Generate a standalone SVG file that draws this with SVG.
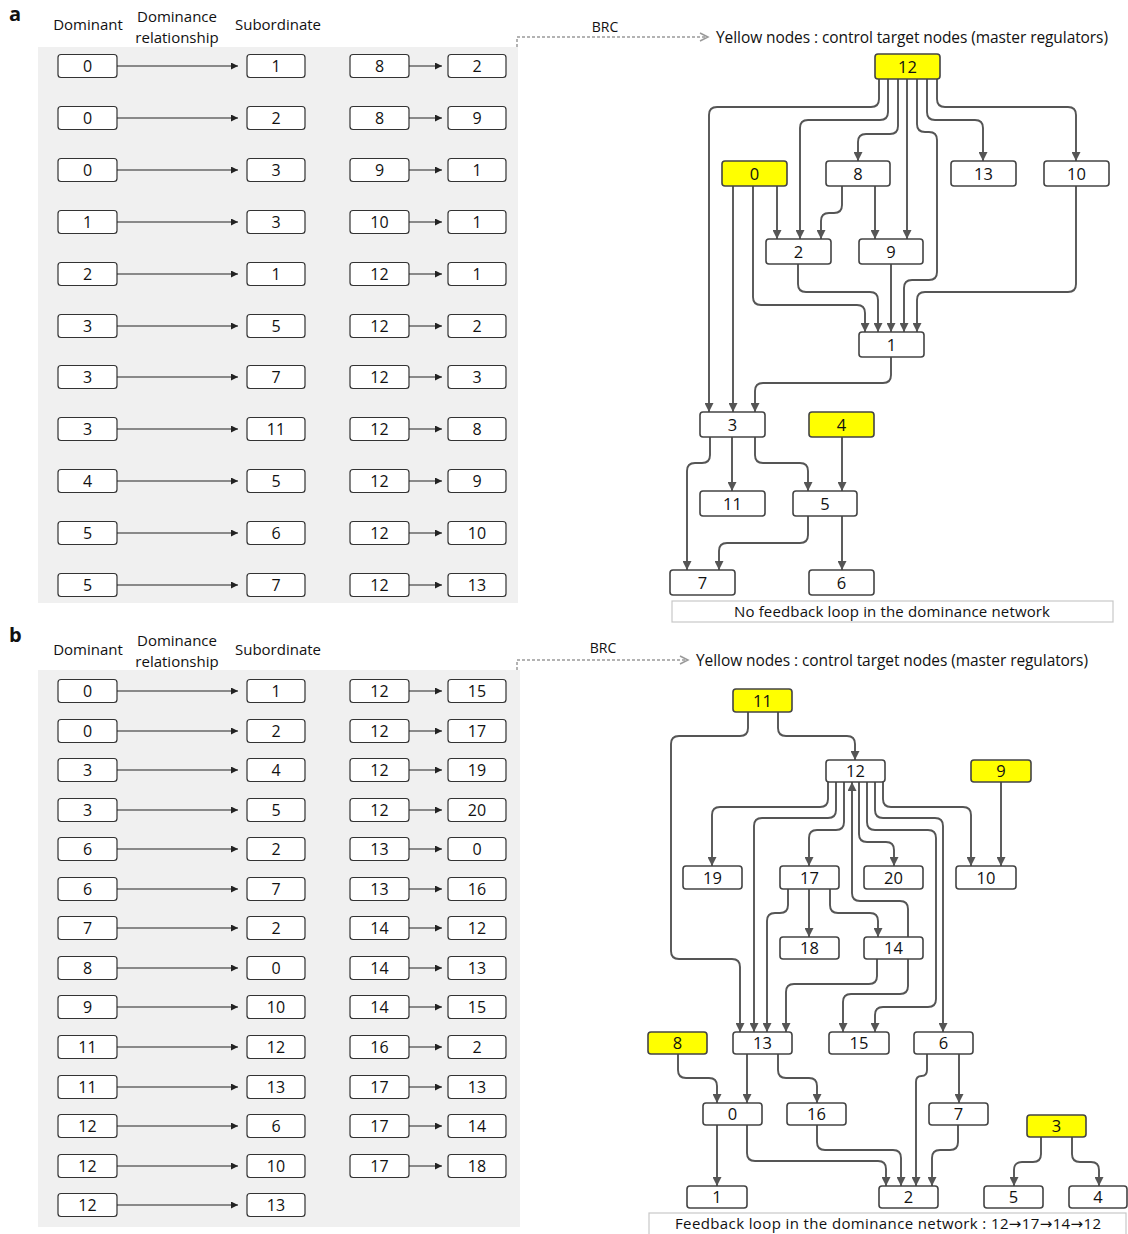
<svg xmlns="http://www.w3.org/2000/svg" width="1128" height="1234" viewBox="0 0 1128 1234">
<style>
text{font-family:"Open Sans","Liberation Sans",sans-serif;fill:#111;}
.hd{font-size:15px;text-anchor:middle;}
.pl{font-size:20px;font-weight:bold;}
.tb{fill:#fff;stroke:#333;stroke-width:1.2;}
.tt{font-size:16px;text-anchor:middle;}
.ta{stroke:#222;stroke-width:1;marker-end:url(#ta);}
.gn{fill:#fff;stroke:#444;stroke-width:1.6;}
.y{fill:#ffff00;}
.gt{font-size:16.5px;text-anchor:middle;}
.e{fill:none;stroke:#555;stroke-width:1.9;marker-end:url(#ah);}
.brc{fill:none;stroke:#9a9a9a;stroke-width:1.5;stroke-dasharray:3 2;}
.brh{fill:none;stroke:#9a9a9a;stroke-width:1.5;}
.cap{fill:#fff;stroke:#c8c8c8;stroke-width:1.2;}
.bg{fill:#f0f0f0;}
.arr{font-family:"DejaVu Sans",sans-serif;}
</style>
<defs>
<marker id="ah" viewBox="0 0 10 10" refX="10" refY="5" markerWidth="10" markerHeight="9" markerUnits="userSpaceOnUse" orient="auto"><path d="M0,0 L10,5 L0,10 z" fill="#555"/></marker>
<marker id="ta" viewBox="0 0 10 10" refX="10" refY="5" markerWidth="8" markerHeight="7" markerUnits="userSpaceOnUse" orient="auto"><path d="M0,0 L10,5 L0,10 z" fill="#222"/></marker>
</defs>
<rect width="1128" height="1234" fill="#fff"/>

<!-- ============ PANEL A ============ -->
<text class="pl" x="9" y="21">a</text>
<text class="hd" x="88" y="30">Dominant</text>
<text class="hd" x="177" y="22">Dominance</text>
<text class="hd" x="177" y="43">relationship</text>
<text class="hd" x="278" y="30">Subordinate</text>
<rect class="bg" x="38" y="47" width="480" height="556"/>

<g id="a-table">
<g id="a-row1"><rect class="tb" x="58" y="54.5" width="59" height="23" rx="3"/><text class="tt" x="87.5" y="71.8">0</text><line class="ta" x1="117" y1="66" x2="238" y2="66"/><rect class="tb" x="247" y="54.5" width="58" height="23" rx="3"/><text class="tt" x="276" y="71.8">1</text><rect class="tb" x="350" y="54.5" width="59" height="23" rx="3"/><text class="tt" x="379.5" y="71.8">8</text><line class="ta" x1="409" y1="66" x2="442" y2="66"/><rect class="tb" x="448" y="54.5" width="58" height="23" rx="3"/><text class="tt" x="477" y="71.8">2</text></g>
<g id="a-row2"><rect class="tb" x="58" y="106.5" width="59" height="23" rx="3"/><text class="tt" x="87.5" y="123.8">0</text><line class="ta" x1="117" y1="118" x2="238" y2="118"/><rect class="tb" x="247" y="106.5" width="58" height="23" rx="3"/><text class="tt" x="276" y="123.8">2</text><rect class="tb" x="350" y="106.5" width="59" height="23" rx="3"/><text class="tt" x="379.5" y="123.8">8</text><line class="ta" x1="409" y1="118" x2="442" y2="118"/><rect class="tb" x="448" y="106.5" width="58" height="23" rx="3"/><text class="tt" x="477" y="123.8">9</text></g>
<g id="a-row3"><rect class="tb" x="58" y="158.5" width="59" height="23" rx="3"/><text class="tt" x="87.5" y="175.8">0</text><line class="ta" x1="117" y1="170" x2="238" y2="170"/><rect class="tb" x="247" y="158.5" width="58" height="23" rx="3"/><text class="tt" x="276" y="175.8">3</text><rect class="tb" x="350" y="158.5" width="59" height="23" rx="3"/><text class="tt" x="379.5" y="175.8">9</text><line class="ta" x1="409" y1="170" x2="442" y2="170"/><rect class="tb" x="448" y="158.5" width="58" height="23" rx="3"/><text class="tt" x="477" y="175.8">1</text></g>
<g id="a-row4"><rect class="tb" x="58" y="210.5" width="59" height="23" rx="3"/><text class="tt" x="87.5" y="227.8">1</text><line class="ta" x1="117" y1="222" x2="238" y2="222"/><rect class="tb" x="247" y="210.5" width="58" height="23" rx="3"/><text class="tt" x="276" y="227.8">3</text><rect class="tb" x="350" y="210.5" width="59" height="23" rx="3"/><text class="tt" x="379.5" y="227.8">10</text><line class="ta" x1="409" y1="222" x2="442" y2="222"/><rect class="tb" x="448" y="210.5" width="58" height="23" rx="3"/><text class="tt" x="477" y="227.8">1</text></g>
<g id="a-row5"><rect class="tb" x="58" y="262.5" width="59" height="23" rx="3"/><text class="tt" x="87.5" y="279.8">2</text><line class="ta" x1="117" y1="274" x2="238" y2="274"/><rect class="tb" x="247" y="262.5" width="58" height="23" rx="3"/><text class="tt" x="276" y="279.8">1</text><rect class="tb" x="350" y="262.5" width="59" height="23" rx="3"/><text class="tt" x="379.5" y="279.8">12</text><line class="ta" x1="409" y1="274" x2="442" y2="274"/><rect class="tb" x="448" y="262.5" width="58" height="23" rx="3"/><text class="tt" x="477" y="279.8">1</text></g>
<g id="a-row6"><rect class="tb" x="58" y="314.5" width="59" height="23" rx="3"/><text class="tt" x="87.5" y="331.8">3</text><line class="ta" x1="117" y1="326" x2="238" y2="326"/><rect class="tb" x="247" y="314.5" width="58" height="23" rx="3"/><text class="tt" x="276" y="331.8">5</text><rect class="tb" x="350" y="314.5" width="59" height="23" rx="3"/><text class="tt" x="379.5" y="331.8">12</text><line class="ta" x1="409" y1="326" x2="442" y2="326"/><rect class="tb" x="448" y="314.5" width="58" height="23" rx="3"/><text class="tt" x="477" y="331.8">2</text></g>
<g id="a-row7"><rect class="tb" x="58" y="365.5" width="59" height="23" rx="3"/><text class="tt" x="87.5" y="382.8">3</text><line class="ta" x1="117" y1="377" x2="238" y2="377"/><rect class="tb" x="247" y="365.5" width="58" height="23" rx="3"/><text class="tt" x="276" y="382.8">7</text><rect class="tb" x="350" y="365.5" width="59" height="23" rx="3"/><text class="tt" x="379.5" y="382.8">12</text><line class="ta" x1="409" y1="377" x2="442" y2="377"/><rect class="tb" x="448" y="365.5" width="58" height="23" rx="3"/><text class="tt" x="477" y="382.8">3</text></g>
<g id="a-row8"><rect class="tb" x="58" y="417.5" width="59" height="23" rx="3"/><text class="tt" x="87.5" y="434.8">3</text><line class="ta" x1="117" y1="429" x2="238" y2="429"/><rect class="tb" x="247" y="417.5" width="58" height="23" rx="3"/><text class="tt" x="276" y="434.8">11</text><rect class="tb" x="350" y="417.5" width="59" height="23" rx="3"/><text class="tt" x="379.5" y="434.8">12</text><line class="ta" x1="409" y1="429" x2="442" y2="429"/><rect class="tb" x="448" y="417.5" width="58" height="23" rx="3"/><text class="tt" x="477" y="434.8">8</text></g>
<g id="a-row9"><rect class="tb" x="58" y="469.5" width="59" height="23" rx="3"/><text class="tt" x="87.5" y="486.8">4</text><line class="ta" x1="117" y1="481" x2="238" y2="481"/><rect class="tb" x="247" y="469.5" width="58" height="23" rx="3"/><text class="tt" x="276" y="486.8">5</text><rect class="tb" x="350" y="469.5" width="59" height="23" rx="3"/><text class="tt" x="379.5" y="486.8">12</text><line class="ta" x1="409" y1="481" x2="442" y2="481"/><rect class="tb" x="448" y="469.5" width="58" height="23" rx="3"/><text class="tt" x="477" y="486.8">9</text></g>
<g id="a-row10"><rect class="tb" x="58" y="521.5" width="59" height="23" rx="3"/><text class="tt" x="87.5" y="538.8">5</text><line class="ta" x1="117" y1="533" x2="238" y2="533"/><rect class="tb" x="247" y="521.5" width="58" height="23" rx="3"/><text class="tt" x="276" y="538.8">6</text><rect class="tb" x="350" y="521.5" width="59" height="23" rx="3"/><text class="tt" x="379.5" y="538.8">12</text><line class="ta" x1="409" y1="533" x2="442" y2="533"/><rect class="tb" x="448" y="521.5" width="58" height="23" rx="3"/><text class="tt" x="477" y="538.8">10</text></g>
<g id="a-row11"><rect class="tb" x="58" y="573.5" width="59" height="23" rx="3"/><text class="tt" x="87.5" y="590.8">5</text><line class="ta" x1="117" y1="585" x2="238" y2="585"/><rect class="tb" x="247" y="573.5" width="58" height="23" rx="3"/><text class="tt" x="276" y="590.8">7</text><rect class="tb" x="350" y="573.5" width="59" height="23" rx="3"/><text class="tt" x="379.5" y="590.8">12</text><line class="ta" x1="409" y1="585" x2="442" y2="585"/><rect class="tb" x="448" y="573.5" width="58" height="23" rx="3"/><text class="tt" x="477" y="590.8">13</text></g>
</g>

<g id="a-brc">
<path class="brc" d="M517,47 V37 H707"/>
<path class="brh" d="M700,33 L708,37 L700,41"/>
<text x="605" y="32" style="font-size:14px;text-anchor:middle">BRC</text>
<text x="716" y="43" style="font-size:15.5px" textLength="392">Yellow nodes : control target nodes (master regulators)</text>
</g>

<g id="a-connectors">
<path class="e" d="M879,79 V99 Q879,107 871,107 H717 Q709,107 709,115 V412"/>
<path class="e" d="M888,79 V112 Q888,120 880,120 H808 Q800,120 800,128 V239"/>
<path class="e" d="M898,79 V126 Q898,134 890,134 H866 Q858,134 858,142 V161"/>
<path class="e" d="M907,79 V239"/>
<path class="e" d="M917,79 V124 Q917,132 925,132 H929 Q937,132 937,140 V272 Q937,280 929,280 H912 Q904,280 904,288 V332"/>
<path class="e" d="M927,79 V112 Q927,120 935,120 H975 Q983,120 983,128 V161"/>
<path class="e" d="M937,79 V99 Q937,107 945,107 H1068 Q1076,107 1076,115 V161"/>
<path class="e" d="M842,186 V205 Q842,213 834,213 H829 Q821,213 821,221 V239"/>
<path class="e" d="M875,186 V239"/>
<path class="e" d="M733,186 V412"/>
<path class="e" d="M753,186 V297 Q753,305 761,305 H857 Q865,305 865,313 V332"/>
<path class="e" d="M777,186 V239"/>
<path class="e" d="M798,264 V284 Q798,292 806,292 H870 Q878,292 878,300 V332"/>
<path class="e" d="M891,264 V332"/>
<path class="e" d="M1076,186 V284 Q1076,292 1068,292 H925 Q917,292 917,300 V332"/>
<path class="e" d="M891,357 V375 Q891,383 883,383 H763 Q755,383 755,391 V412"/>
<path class="e" d="M710,437 V455 Q710,463 702,463 H695 Q687,463 687,471 V570"/>
<path class="e" d="M732,437 V491"/>
<path class="e" d="M755,437 V455 Q755,463 763,463 H800 Q808,463 808,471 V491"/>
<path class="e" d="M842,437 V491"/>
<path class="e" d="M808,516 V535 Q808,543 800,543 H727 Q719,543 719,551 V570"/>
<path class="e" d="M842,516 V570"/>
</g>

<g id="a-n12"><rect class="gn y" x="875" y="54" width="65" height="25" rx="3"/><text class="gt" x="907.5" y="72.5">12</text></g>
<g id="a-n0"><rect class="gn y" x="722" y="161" width="65" height="25" rx="3"/><text class="gt" x="754.5" y="179.5">0</text></g>
<g id="a-n8"><rect class="gn" x="826" y="161" width="64" height="25" rx="3"/><text class="gt" x="858" y="179.5">8</text></g>
<g id="a-n13"><rect class="gn" x="951" y="161" width="65" height="25" rx="3"/><text class="gt" x="983.5" y="179.5">13</text></g>
<g id="a-n10"><rect class="gn" x="1044" y="161" width="65" height="25" rx="3"/><text class="gt" x="1076.5" y="179.5">10</text></g>
<g id="a-n2"><rect class="gn" x="766" y="239" width="65" height="25" rx="3"/><text class="gt" x="798.5" y="257.5">2</text></g>
<g id="a-n9"><rect class="gn" x="859" y="239" width="64" height="25" rx="3"/><text class="gt" x="891" y="257.5">9</text></g>
<g id="a-n1"><rect class="gn" x="859" y="332" width="65" height="25" rx="3"/><text class="gt" x="891.5" y="350.5">1</text></g>
<g id="a-n3"><rect class="gn" x="700" y="412" width="65" height="25" rx="3"/><text class="gt" x="732.5" y="430.5">3</text></g>
<g id="a-n4"><rect class="gn y" x="809" y="412" width="65" height="25" rx="3"/><text class="gt" x="841.5" y="430.5">4</text></g>
<g id="a-n11"><rect class="gn" x="700" y="491" width="65" height="25" rx="3"/><text class="gt" x="732.5" y="509.5">11</text></g>
<g id="a-n5"><rect class="gn" x="793" y="491" width="64" height="25" rx="3"/><text class="gt" x="825" y="509.5">5</text></g>
<g id="a-n7"><rect class="gn" x="670" y="570" width="65" height="25" rx="3"/><text class="gt" x="702.5" y="588.5">7</text></g>
<g id="a-n6"><rect class="gn" x="809" y="570" width="65" height="25" rx="3"/><text class="gt" x="841.5" y="588.5">6</text></g>

<g id="a-caption"><rect class="cap" x="672" y="601" width="441" height="21"/><text x="892" y="616.5" style="font-size:15px;text-anchor:middle" textLength="316">No feedback loop in the dominance network</text></g>

<!-- ============ PANEL B ============ -->
<text class="pl" x="9" y="642">b</text>
<text class="hd" x="88" y="655">Dominant</text>
<text class="hd" x="177" y="646">Dominance</text>
<text class="hd" x="177" y="667">relationship</text>
<text class="hd" x="278" y="655">Subordinate</text>
<rect class="bg" x="38" y="670" width="482" height="557"/>

<g id="b-table">
<g id="b-row1"><rect class="tb" x="58" y="679.5" width="59" height="23" rx="3"/><text class="tt" x="87.5" y="696.8">0</text><line class="ta" x1="117" y1="691" x2="238" y2="691"/><rect class="tb" x="247" y="679.5" width="58" height="23" rx="3"/><text class="tt" x="276" y="696.8">1</text><rect class="tb" x="350" y="679.5" width="59" height="23" rx="3"/><text class="tt" x="379.5" y="696.8">12</text><line class="ta" x1="409" y1="691" x2="442" y2="691"/><rect class="tb" x="448" y="679.5" width="58" height="23" rx="3"/><text class="tt" x="477" y="696.8">15</text></g>
<g id="b-row2"><rect class="tb" x="58" y="719.5" width="59" height="23" rx="3"/><text class="tt" x="87.5" y="736.8">0</text><line class="ta" x1="117" y1="731" x2="238" y2="731"/><rect class="tb" x="247" y="719.5" width="58" height="23" rx="3"/><text class="tt" x="276" y="736.8">2</text><rect class="tb" x="350" y="719.5" width="59" height="23" rx="3"/><text class="tt" x="379.5" y="736.8">12</text><line class="ta" x1="409" y1="731" x2="442" y2="731"/><rect class="tb" x="448" y="719.5" width="58" height="23" rx="3"/><text class="tt" x="477" y="736.8">17</text></g>
<g id="b-row3"><rect class="tb" x="58" y="758.5" width="59" height="23" rx="3"/><text class="tt" x="87.5" y="775.8">3</text><line class="ta" x1="117" y1="770" x2="238" y2="770"/><rect class="tb" x="247" y="758.5" width="58" height="23" rx="3"/><text class="tt" x="276" y="775.8">4</text><rect class="tb" x="350" y="758.5" width="59" height="23" rx="3"/><text class="tt" x="379.5" y="775.8">12</text><line class="ta" x1="409" y1="770" x2="442" y2="770"/><rect class="tb" x="448" y="758.5" width="58" height="23" rx="3"/><text class="tt" x="477" y="775.8">19</text></g>
<g id="b-row4"><rect class="tb" x="58" y="798.5" width="59" height="23" rx="3"/><text class="tt" x="87.5" y="815.8">3</text><line class="ta" x1="117" y1="810" x2="238" y2="810"/><rect class="tb" x="247" y="798.5" width="58" height="23" rx="3"/><text class="tt" x="276" y="815.8">5</text><rect class="tb" x="350" y="798.5" width="59" height="23" rx="3"/><text class="tt" x="379.5" y="815.8">12</text><line class="ta" x1="409" y1="810" x2="442" y2="810"/><rect class="tb" x="448" y="798.5" width="58" height="23" rx="3"/><text class="tt" x="477" y="815.8">20</text></g>
<g id="b-row5"><rect class="tb" x="58" y="837.5" width="59" height="23" rx="3"/><text class="tt" x="87.5" y="854.8">6</text><line class="ta" x1="117" y1="849" x2="238" y2="849"/><rect class="tb" x="247" y="837.5" width="58" height="23" rx="3"/><text class="tt" x="276" y="854.8">2</text><rect class="tb" x="350" y="837.5" width="59" height="23" rx="3"/><text class="tt" x="379.5" y="854.8">13</text><line class="ta" x1="409" y1="849" x2="442" y2="849"/><rect class="tb" x="448" y="837.5" width="58" height="23" rx="3"/><text class="tt" x="477" y="854.8">0</text></g>
<g id="b-row6"><rect class="tb" x="58" y="877.5" width="59" height="23" rx="3"/><text class="tt" x="87.5" y="894.8">6</text><line class="ta" x1="117" y1="889" x2="238" y2="889"/><rect class="tb" x="247" y="877.5" width="58" height="23" rx="3"/><text class="tt" x="276" y="894.8">7</text><rect class="tb" x="350" y="877.5" width="59" height="23" rx="3"/><text class="tt" x="379.5" y="894.8">13</text><line class="ta" x1="409" y1="889" x2="442" y2="889"/><rect class="tb" x="448" y="877.5" width="58" height="23" rx="3"/><text class="tt" x="477" y="894.8">16</text></g>
<g id="b-row7"><rect class="tb" x="58" y="916.5" width="59" height="23" rx="3"/><text class="tt" x="87.5" y="933.8">7</text><line class="ta" x1="117" y1="928" x2="238" y2="928"/><rect class="tb" x="247" y="916.5" width="58" height="23" rx="3"/><text class="tt" x="276" y="933.8">2</text><rect class="tb" x="350" y="916.5" width="59" height="23" rx="3"/><text class="tt" x="379.5" y="933.8">14</text><line class="ta" x1="409" y1="928" x2="442" y2="928"/><rect class="tb" x="448" y="916.5" width="58" height="23" rx="3"/><text class="tt" x="477" y="933.8">12</text></g>
<g id="b-row8"><rect class="tb" x="58" y="956.5" width="59" height="23" rx="3"/><text class="tt" x="87.5" y="973.8">8</text><line class="ta" x1="117" y1="968" x2="238" y2="968"/><rect class="tb" x="247" y="956.5" width="58" height="23" rx="3"/><text class="tt" x="276" y="973.8">0</text><rect class="tb" x="350" y="956.5" width="59" height="23" rx="3"/><text class="tt" x="379.5" y="973.8">14</text><line class="ta" x1="409" y1="968" x2="442" y2="968"/><rect class="tb" x="448" y="956.5" width="58" height="23" rx="3"/><text class="tt" x="477" y="973.8">13</text></g>
<g id="b-row9"><rect class="tb" x="58" y="995.5" width="59" height="23" rx="3"/><text class="tt" x="87.5" y="1012.8">9</text><line class="ta" x1="117" y1="1007" x2="238" y2="1007"/><rect class="tb" x="247" y="995.5" width="58" height="23" rx="3"/><text class="tt" x="276" y="1012.8">10</text><rect class="tb" x="350" y="995.5" width="59" height="23" rx="3"/><text class="tt" x="379.5" y="1012.8">14</text><line class="ta" x1="409" y1="1007" x2="442" y2="1007"/><rect class="tb" x="448" y="995.5" width="58" height="23" rx="3"/><text class="tt" x="477" y="1012.8">15</text></g>
<g id="b-row10"><rect class="tb" x="58" y="1035.5" width="59" height="23" rx="3"/><text class="tt" x="87.5" y="1052.8">11</text><line class="ta" x1="117" y1="1047" x2="238" y2="1047"/><rect class="tb" x="247" y="1035.5" width="58" height="23" rx="3"/><text class="tt" x="276" y="1052.8">12</text><rect class="tb" x="350" y="1035.5" width="59" height="23" rx="3"/><text class="tt" x="379.5" y="1052.8">16</text><line class="ta" x1="409" y1="1047" x2="442" y2="1047"/><rect class="tb" x="448" y="1035.5" width="58" height="23" rx="3"/><text class="tt" x="477" y="1052.8">2</text></g>
<g id="b-row11"><rect class="tb" x="58" y="1075.5" width="59" height="23" rx="3"/><text class="tt" x="87.5" y="1092.8">11</text><line class="ta" x1="117" y1="1087" x2="238" y2="1087"/><rect class="tb" x="247" y="1075.5" width="58" height="23" rx="3"/><text class="tt" x="276" y="1092.8">13</text><rect class="tb" x="350" y="1075.5" width="59" height="23" rx="3"/><text class="tt" x="379.5" y="1092.8">17</text><line class="ta" x1="409" y1="1087" x2="442" y2="1087"/><rect class="tb" x="448" y="1075.5" width="58" height="23" rx="3"/><text class="tt" x="477" y="1092.8">13</text></g>
<g id="b-row12"><rect class="tb" x="58" y="1114.5" width="59" height="23" rx="3"/><text class="tt" x="87.5" y="1131.8">12</text><line class="ta" x1="117" y1="1126" x2="238" y2="1126"/><rect class="tb" x="247" y="1114.5" width="58" height="23" rx="3"/><text class="tt" x="276" y="1131.8">6</text><rect class="tb" x="350" y="1114.5" width="59" height="23" rx="3"/><text class="tt" x="379.5" y="1131.8">17</text><line class="ta" x1="409" y1="1126" x2="442" y2="1126"/><rect class="tb" x="448" y="1114.5" width="58" height="23" rx="3"/><text class="tt" x="477" y="1131.8">14</text></g>
<g id="b-row13"><rect class="tb" x="58" y="1154.5" width="59" height="23" rx="3"/><text class="tt" x="87.5" y="1171.8">12</text><line class="ta" x1="117" y1="1166" x2="238" y2="1166"/><rect class="tb" x="247" y="1154.5" width="58" height="23" rx="3"/><text class="tt" x="276" y="1171.8">10</text><rect class="tb" x="350" y="1154.5" width="59" height="23" rx="3"/><text class="tt" x="379.5" y="1171.8">17</text><line class="ta" x1="409" y1="1166" x2="442" y2="1166"/><rect class="tb" x="448" y="1154.5" width="58" height="23" rx="3"/><text class="tt" x="477" y="1171.8">18</text></g>
<g id="b-row14"><rect class="tb" x="58" y="1193.5" width="59" height="23" rx="3"/><text class="tt" x="87.5" y="1210.8">12</text><line class="ta" x1="117" y1="1205" x2="238" y2="1205"/><rect class="tb" x="247" y="1193.5" width="58" height="23" rx="3"/><text class="tt" x="276" y="1210.8">13</text></g>
</g>

<g id="b-brc">
<path class="brc" d="M517,670 V660 H687"/>
<path class="brh" d="M680,656 L688,660 L680,664"/>
<text x="603" y="653" style="font-size:14px;text-anchor:middle">BRC</text>
<text x="696" y="666" style="font-size:15.5px" textLength="392">Yellow nodes : control target nodes (master regulators)</text>
</g>

<g id="b-connectors">
<path class="e" d="M748,712 V728 Q748,736 740,736 H679 Q671,736 671,744 V951 Q671,959 679,959 H732 Q740,959 740,967 V1032"/>
<path class="e" d="M778,712 V728 Q778,736 786,736 H847 Q855,736 855,744 V760"/>
<path class="e" d="M828,782 V799 Q828,807 820,807 H720 Q712,807 712,815 V866"/>
<path class="e" d="M836,782 V810 Q836,818 828,818 H762 Q754,818 754,826 V1032"/>
<path class="e" d="M844,782 V822 Q844,830 836,830 H817 Q809,830 809,838 V866"/>
<path class="e" d="M908,937 V909 Q908,901 900,901 H860 Q852,901 852,893 V782"/>
<path class="e" d="M859,782 V834 Q859,842 867,842 H886 Q894,842 894,850 V866"/>
<path class="e" d="M867,782 V822 Q867,830 875,830 H928 Q936,830 936,838 V999 Q936,1007 928,1007 H883 Q875,1007 875,1015 V1032"/>
<path class="e" d="M875,782 V810 Q875,818 883,818 H935 Q943,818 943,826 V1032"/>
<path class="e" d="M883,782 V799 Q883,807 891,807 H963 Q971,807 971,815 V866"/>
<path class="e" d="M1001,782 V866"/>
<path class="e" d="M788,889 V905 Q788,913 780,913 H775 Q767,913 767,921 V1032"/>
<path class="e" d="M809,889 V937"/>
<path class="e" d="M830,889 V905 Q830,913 838,913 H870 Q878,913 878,921 V937"/>
<path class="e" d="M877,959 V976 Q877,984 869,984 H794 Q786,984 786,992 V1032"/>
<path class="e" d="M908,959 V986 Q908,994 900,994 H851 Q843,994 843,1002 V1032"/>
<path class="e" d="M678,1054 V1070 Q678,1078 686,1078 H709 Q717,1078 717,1086 V1103"/>
<path class="e" d="M747,1054 V1103"/>
<path class="e" d="M778,1054 V1070 Q778,1078 786,1078 H809 Q817,1078 817,1086 V1103"/>
<path class="e" d="M927,1054 V1070 Q927,1076 921.5,1076 Q916,1076 916,1082 V1186"/>
<path class="e" d="M959,1054 V1103"/>
<path class="e" d="M717,1125 V1186"/>
<path class="e" d="M747,1125 V1153 Q747,1161 755,1161 H878 Q886,1161 886,1169 V1186"/>
<path class="e" d="M817,1125 V1142 Q817,1150 825,1150 H893 Q901,1150 901,1158 V1186"/>
<path class="e" d="M958,1125 V1142 Q958,1150 950,1150 H940 Q932,1150 932,1158 V1186"/>
<path class="e" d="M1041,1137 V1154 Q1041,1162 1033,1162 H1022 Q1014,1162 1014,1170 V1186"/>
<path class="e" d="M1072,1137 V1154 Q1072,1162 1080,1162 H1091 Q1099,1162 1099,1170 V1186"/>
</g>

<g id="b-n11"><rect class="gn y" x="733" y="689" width="59" height="23" rx="3"/><text class="gt" x="762.5" y="706.5">11</text></g>
<g id="b-n12"><rect class="gn" x="826" y="760" width="59" height="22" rx="3"/><text class="gt" x="855.5" y="777">12</text></g>
<g id="b-n9"><rect class="gn y" x="971" y="760" width="60" height="22" rx="3"/><text class="gt" x="1001" y="777">9</text></g>
<g id="b-n19"><rect class="gn" x="683" y="866" width="59" height="23" rx="3"/><text class="gt" x="712.5" y="883.5">19</text></g>
<g id="b-n17"><rect class="gn" x="780" y="866" width="59" height="23" rx="3"/><text class="gt" x="809.5" y="883.5">17</text></g>
<g id="b-n20"><rect class="gn" x="864" y="866" width="59" height="23" rx="3"/><text class="gt" x="893.5" y="883.5">20</text></g>
<g id="b-n10"><rect class="gn" x="956" y="866" width="60" height="23" rx="3"/><text class="gt" x="986" y="883.5">10</text></g>
<g id="b-n18"><rect class="gn" x="780" y="937" width="59" height="22" rx="3"/><text class="gt" x="809.5" y="954">18</text></g>
<g id="b-n14"><rect class="gn" x="864" y="937" width="59" height="22" rx="3"/><text class="gt" x="893.5" y="954">14</text></g>
<g id="b-n8"><rect class="gn y" x="648" y="1032" width="59" height="22" rx="3"/><text class="gt" x="677.5" y="1049">8</text></g>
<g id="b-n13"><rect class="gn" x="733" y="1032" width="59" height="22" rx="3"/><text class="gt" x="762.5" y="1049">13</text></g>
<g id="b-n15"><rect class="gn" x="829" y="1032" width="60" height="22" rx="3"/><text class="gt" x="859" y="1049">15</text></g>
<g id="b-n6"><rect class="gn" x="914" y="1032" width="59" height="22" rx="3"/><text class="gt" x="943.5" y="1049">6</text></g>
<g id="b-n0"><rect class="gn" x="703" y="1103" width="59" height="22" rx="3"/><text class="gt" x="732.5" y="1120">0</text></g>
<g id="b-n16"><rect class="gn" x="787" y="1103" width="59" height="22" rx="3"/><text class="gt" x="816.5" y="1120">16</text></g>
<g id="b-n7"><rect class="gn" x="929" y="1103" width="59" height="22" rx="3"/><text class="gt" x="958.5" y="1120">7</text></g>
<g id="b-n3"><rect class="gn y" x="1027" y="1115" width="59" height="22" rx="3"/><text class="gt" x="1056.5" y="1132">3</text></g>
<g id="b-n1"><rect class="gn" x="687" y="1186" width="60" height="22" rx="3"/><text class="gt" x="717" y="1203">1</text></g>
<g id="b-n2"><rect class="gn" x="879" y="1186" width="59" height="22" rx="3"/><text class="gt" x="908.5" y="1203">2</text></g>
<g id="b-n5"><rect class="gn" x="984" y="1186" width="59" height="22" rx="3"/><text class="gt" x="1013.5" y="1203">5</text></g>
<g id="b-n4"><rect class="gn" x="1069" y="1186" width="58" height="22" rx="3"/><text class="gt" x="1098" y="1203">4</text></g>

<g id="b-caption"><rect class="cap" x="649" y="1213" width="477" height="24"/><text x="888" y="1229" style="font-size:15px;text-anchor:middle" textLength="426">Feedback loop in the dominance network : 12<tspan class="arr">→</tspan>17<tspan class="arr">→</tspan>14<tspan class="arr">→</tspan>12</text></g>
</svg>
